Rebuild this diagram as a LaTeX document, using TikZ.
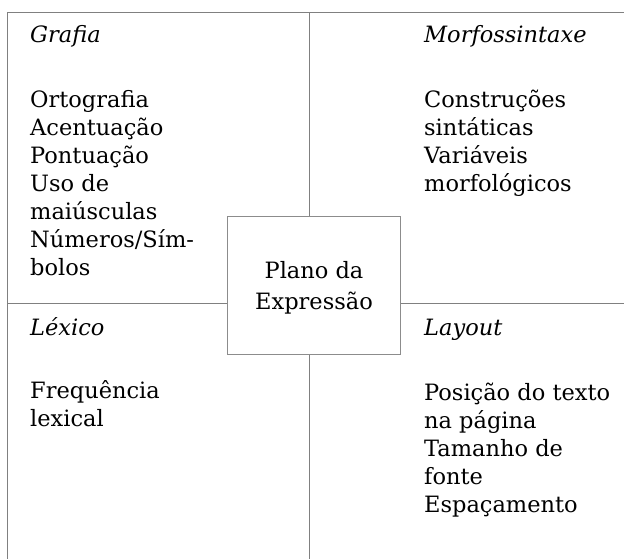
\documentclass[tikz,border=0pt]{standalone}
\usepackage{fontspec}
\setmainfont{DejaVu Serif}
\usetikzlibrary{positioning}

\newcommand{\cellfont}{\fontsize{22.5}{28}\selectfont}

\begin{document}
\begin{tikzpicture}[x=1pt,y=-1pt,
    rule/.style={draw=black!50,line width=0.9pt},
    heading/.style={anchor=base west,inner sep=0pt,font=\cellfont\itshape},
    items/.style={anchor=north west,inner sep=0pt,align=left,font=\cellfont},
    plane/.style={draw=black!45,line width=0.9pt,fill=white,align=center,
        font=\fontsize{22.5}{31}\selectfont,minimum width=173pt,minimum height=138pt,inner sep=0pt}]
            \useasboundingbox (0,0) rectangle (624,559);
            % frame and cross
            \coordinate (tl) at (7.3,12.5);
            \coordinate (tr) at (624,12.5);
            \coordinate (bl) at (7.3,559);
            \coordinate (mt) at (309.5,12.5);
            \coordinate (mb) at (309.5,559);
            \coordinate (ml) at (7.3,303);
            \coordinate (mr) at (624,303);
            \draw[rule] (bl)--(tl)--(tr);
            \draw[rule] (mt)--(mb);
            \draw[rule] (ml)--(mr);
            \node[plane] (plano) at (314,285.3) {\strut Plano da\\Expressão};

            % quadrants
            \node[heading] (grafia) at (30,43) {Grafia};
            \node[items] (grafiaitems) at (30,87.4) {\strut Ortografia\\Acentuação\\Pontuação\\Uso de\\maiúsculas\\Números/Sím-\\bolos};
            \node[heading] (morfo) at (424,43) {Morfossintaxe};
            \node[items] (morfoitems) at (424,87.4) {\strut Construções\\sintáticas\\Variáveis\\morfológicos};
            \node[heading] (lexico) at (30,335) {Léxico};
            \node[items] (lexicoitems) at (30,378.4) {\strut Frequência\\lexical};
            \node[heading] (layout) at (424,335) {Layout};
            \node[items] (layoutitems) at (424,380.4) {\strut Posição do texto\\na página\\Tamanho de\\fonte\\Espaçamento};
        \end{tikzpicture}
\end{document}
